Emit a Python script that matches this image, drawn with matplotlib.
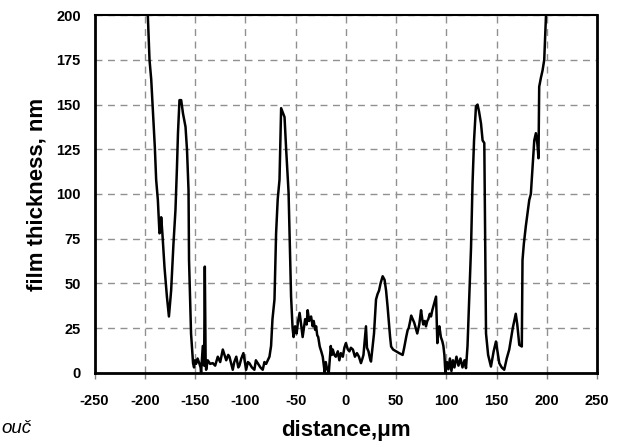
import matplotlib.pyplot as plt

# profil tloušťky filmu
distance = [-200, -197, -195.3, -193.6, -192, -190, -188.7, -187, -185.4, -184.5, -183.7, -182.5,
            -180.4, -178, -176, -173.8, -171.5, -169.5, -168, -167, -165.5, -163.8, -162,
            -159.5, -158, -156.5, -156, -154, -152, -151, -150, -149, -147.5, -145.6, -144.5,
            -144, -142.3, -141, -140.3, -139.5, -139, -137.4, -135, -132.4, -130, -127.4, -125,
            -122.4, -119, -117, -115.8, -114, -112.5, -111, -109, -107, -105.9, -104, -101.9,
            -99.2, -97.5, -96, -93.5, -91, -89.5, -87.7, -85, -82.7, -81, -79.3, -76, -74.4,
            -73, -71, -69.4, -67.8, -66, -64.4, -63, -61, -59.4, -57, -56, -54.5, -53, -52,
            -50.5, -49, -47.5, -46, -44.5, -43, -41.5, -40.5, -39, -38, -36.5, -34.6, -33, -32,
            -30.5, -29.6, -28.5, -27.5, -26, -24.5, -23, -21, -20, -19, -17, -15, -14, -13, -11.5,
            -10, -8, -6.5, -5, -3, -1.5, 0, 2, 3.5, 5, 7, 9, 11, 13, 15, 16.5, 17.5, 19, 20, 21,
            22.5, 24, 25, 26.5, 28, 30, 31.5, 33, 34.5, 36.6, 38.5, 40, 41.5, 42.5, 44, 45, 47,
            50, 53, 56.5, 58, 60, 61.5, 62.5, 64, 65, 66.5, 68, 69.5, 71, 73, 74.8, 76, 77, 78.5,
            79.7, 81, 82, 83.5, 84.7, 86, 87, 88.5, 89.7, 91, 92, 93, 94.5, 96, 97, 98, 99,
            100.5, 102, 103.5, 105, 106.5, 108, 110, 112, 114, 116, 118, 119.5, 121, 122.8,
            124.5, 126, 127.5, 129.4, 131, 132.5, 134.4, 136, 137.7, 138.2, 139.4, 141.5, 144.3,
            147, 149.3, 152.6, 155, 157.5, 160, 162.5, 166, 169, 170.5, 172.5, 175, 175.7, 177,
            179, 182.4, 184, 187.4, 189, 190.5, 191.6, 192.3, 194, 195.6, 197.3, 199, 200]
thickness = [205, 200, 175, 164, 147, 126, 108, 96.6, 78, 79, 87, 78,
             59, 42.6, 31.5, 46, 72, 91, 115, 134, 152.5, 152.5, 145,
             137.6, 124.6, 102, 63, 22, 5.4, 3, 7, 5, 8, 5, 3,
             0, 15, 4, 59.4, 8, 1.7, 7, 5, 5.4, 4, 9, 6,
             13, 7, 10, 9, 5, 1.7, 6, 9, 3, 4, 8, 11,
             1.7, 6, 5.4, 3, 1.7, 7, 5.4, 3, 1.7, 6, 5, 9, 15,
             30, 41, 78, 97, 108, 148, 146, 143, 125, 101, 78, 42.6, 25, 20,
             26, 22, 29, 33.5, 27, 20, 26, 30, 27, 35, 29, 31.5, 26, 29,
             24, 26, 21, 20, 14.7, 12, 9, 0, 6, 3, 0, 15, 10, 13, 10,
             9, 12, 7, 11, 9, 14, 16.6, 13, 12, 14, 13, 9, 11, 9, 5.4, 8, 10, 20, 26, 14,
             12, 8, 6.3, 14, 22, 41, 44, 46, 50, 54, 52, 46, 37, 30, 20, 14.7, 13,
             12, 11, 10, 14, 20, 24, 25, 29, 32, 30, 28, 25, 22, 27, 35, 30, 27, 29,
             26, 29, 30, 33, 31.5, 35, 37, 40, 42.6, 16.6, 24, 26, 20, 17.5, 15, 10, 0,
             6, 2, 8, 1, 7, 3, 9, 4, 8, 3, 7, 2.6, 15, 42.6,
             70, 106, 130, 149, 150, 146, 139.5, 130, 128.5, 96.6, 22, 10, 3.5,
             12, 17.5, 5.4, 3, 1.7, 8, 13, 25, 33, 27, 15.6, 14.7, 63, 72,
             82, 96.6, 100, 130, 134, 128, 120, 160, 165, 169, 175, 199, 205]

x_ticks = [-250, -200, -150, -100, -50, 0, 50, 100, 150, 200, 250]
y_ticks = [0, 25, 50, 75, 100, 125, 150, 175, 200]

plt.rcParams['font.family'] = ['Liberation Sans', 'DejaVu Sans']

fig = plt.figure(figsize=(6.26, 4.47), dpi=100)
ax = fig.add_axes([0.151, 0.166, 0.803, 0.8])

ax.plot(distance, thickness, color='black', linewidth=1.8)

ax.set_xlim(-250, 250)
ax.set_ylim(0, 200)
ax.set_xticks(x_ticks)
ax.set_yticks(y_ticks)
ax.set_xticklabels([str(v) for v in x_ticks], fontsize=10.5, fontweight='bold')
ax.set_yticklabels([str(v) for v in y_ticks], fontsize=10.5, fontweight='bold')
ax.tick_params(axis='x', length=4, width=1, color='#808080', pad=11)
ax.tick_params(axis='y', length=0, pad=10)

ax.grid(True, color='#909090', linestyle=(0, (5, 4)), linewidth=1)

for s in ['left', 'bottom', 'right']:
    ax.spines[s].set_linewidth(2)
ax.spines['top'].set_linewidth(1.5)

ax.set_xlabel('distance,\u03bcm', fontsize=16, fontweight='bold', labelpad=9)
ax.set_ylabel('film thickness, nm', fontsize=16, fontweight='bold', labelpad=6)

fig.text(0.002, 0.031, 'ouč', fontsize=13.5, style='italic')

fig.savefig('out.png', dpi=100)
